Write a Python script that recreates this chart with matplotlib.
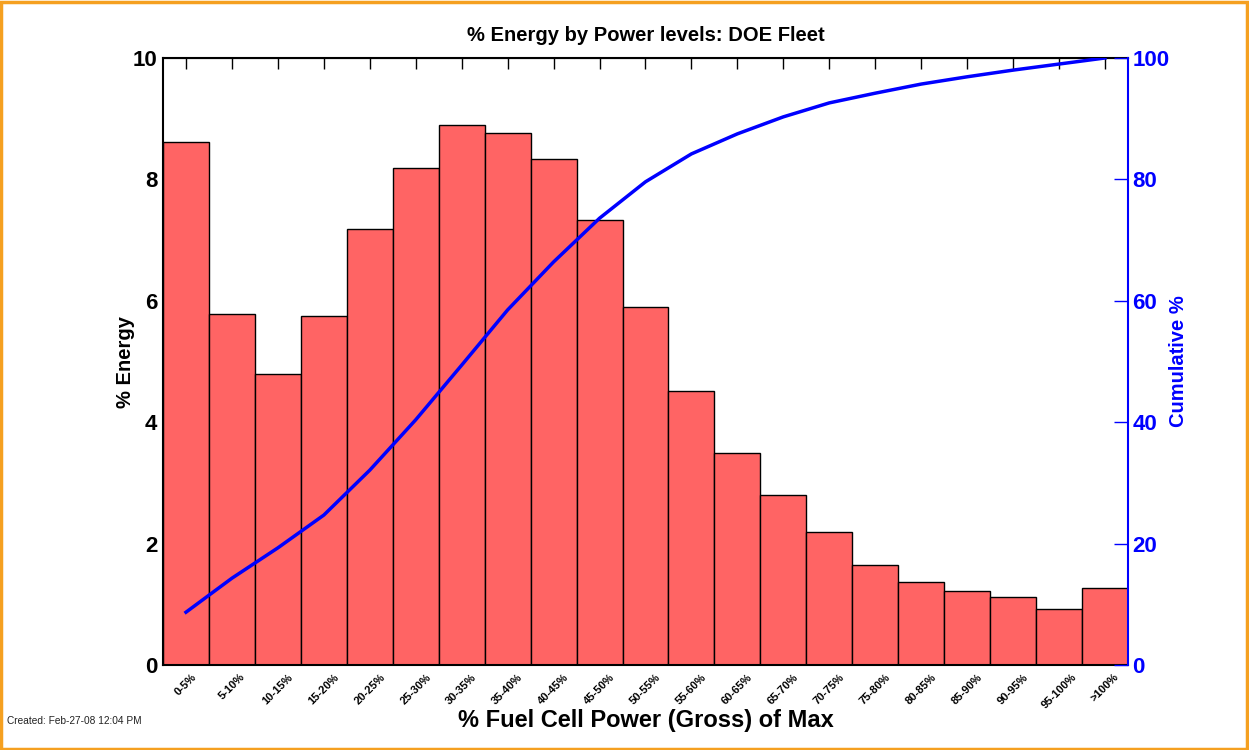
import numpy as np
import matplotlib
matplotlib.use("Agg")
import matplotlib.pyplot as plt
from matplotlib.patches import Rectangle

plt.rcParams['font.family'] = ['Liberation Sans', 'DejaVu Sans']

# data
bins = ["0-5%", "5-10%", "10-15%", "15-20%", "20-25%", "25-30%", "30-35%",
        "35-40%", "40-45%", "45-50%", "50-55%", "55-60%", "60-65%", "65-70%",
        "70-75%", "75-80%", "80-85%", "85-90%", "90-95%", "95-100%", ">100%"]
energy = [8.62, 5.78, 4.79, 5.75, 7.18, 8.19, 8.90, 8.76, 8.34, 7.33, 5.90,
          4.51, 3.49, 2.80, 2.19, 1.65, 1.37, 1.22, 1.12, 0.92, 1.27]
cumulative = [8.7, 14.3, 19.3, 24.7, 32.1, 40.4, 49.4, 58.5, 66.4, 73.6, 79.6,
              84.2, 87.5, 90.3, 92.6, 94.2, 95.7, 96.9, 98.0, 99.0, 100.0]

fig = plt.figure(figsize=(12.49, 7.5), dpi=100)
ax = fig.add_axes([0.1305, 0.1133, 0.7726, 0.8094])

x = np.arange(len(bins))
ax.bar(x, energy, width=1.0, color='#ff6464', edgecolor='black', linewidth=1.0, zorder=2)
ax.set_xlim(-0.5, len(bins) - 0.5)
ax.set_ylim(0, 10)
ax.set_yticks([0, 2, 4, 6, 8, 10])
ax.tick_params(axis='y', direction='in', length=0, labelsize=16, pad=4)
for t in ax.get_yticklabels():
    t.set_fontweight('bold')
ax.set_xticks(x)
ax.set_xticklabels(bins, rotation=45, ha='center', fontsize=8, fontweight='bold')
ax.tick_params(axis='x', direction='in', length=0, pad=5)
# top ticks pointing down at bar centers
secx = ax.secondary_xaxis('top')
secx.set_xticks(x)
secx.set_xticklabels([])
secx.tick_params(direction='in', length=8, width=1, color='black')
for s in ['left', 'bottom', 'top']:
    ax.spines[s].set_linewidth(1.5)
ax.spines['right'].set_visible(False)

ax.set_ylabel('% Energy', fontsize=14.5, fontweight='bold', labelpad=-2)
ax.set_title('% Energy by Power levels: DOE Fleet', fontsize=14.5, fontweight='bold', pad=12)
fig.text(0.517, 0.040, '% Fuel Cell Power (Gross) of Max', fontsize=17,
         fontweight='bold', ha='center', va='center')

ax2 = ax.twinx()
ax2.plot(x, cumulative, color='#0000ff', linewidth=2.5, zorder=3)
ax2.set_ylim(0, 100)
ax2.set_yticks([0, 20, 40, 60, 80, 100])
ax2.tick_params(axis='y', direction='in', length=10, width=1, colors='#0000ff',
                labelsize=16, pad=3)
for t in ax2.get_yticklabels():
    t.set_fontweight('bold')
ax2.spines['right'].set_color('#0000ff')
ax2.spines['right'].set_linewidth(1.5)
for s in ['left', 'bottom', 'top']:
    ax2.spines[s].set_visible(False)
ax2.set_ylabel('Cumulative %', fontsize=14.5, fontweight='bold', color='#0000ff', labelpad=0)

fig.text(0.006, 0.035, 'Created: Feb-27-08 12:04 PM', fontsize=7.3, color='#222222')

# orange frame around the figure
fig.patches.append(Rectangle((0.001, 0.002), 0.997, 0.996, transform=fig.transFigure,
                             fill=False, edgecolor='#f5a020', linewidth=2.5))

fig.savefig('out.png', dpi=100)
